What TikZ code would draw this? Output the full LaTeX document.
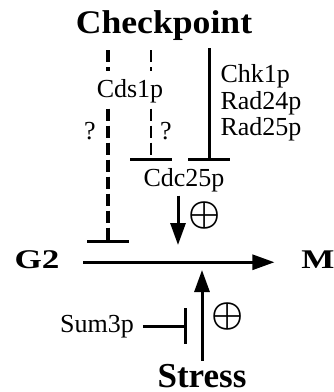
\documentclass[tikz,border=0pt]{standalone}
\usepackage{bm}
\usepackage{fontspec}
\setmainfont{Liberation Serif}
\usepackage{tikz}
\usetikzlibrary{arrows.meta}

\begin{document}
\begin{tikzpicture}[x=0.4pt,y=-0.4pt,
                    act/.style={-{Triangle[length=8.8pt,width=6pt]},line width=1.2pt},
                    inh/.style={-{Bar[width=16.5pt]},line width=1.2pt},
                    guess/.style={inh,dash pattern=on 4.8pt off 2pt}]
\tikzset{font=\fontsize{10.4pt}{10.8pt}\selectfont}
\tikzstyle{lbl}=[inner sep=0pt,anchor=base]
\tikzstyle{big}=[inner sep=0pt,anchor=base,font=\bfseries\fontsize{13.2pt}{14pt}\selectfont]
\tikzstyle{phase}=[inner sep=0pt,anchor=base,font=\bfseries\fontsize{10.8pt}{12pt}\selectfont]
\tikzstyle{signnode}=[inner sep=0pt,font=\fontsize{15.6pt}{16pt}\selectfont]

\useasboundingbox (0,0) rectangle (333,392);

        \node[big]                  (chk)    at (164,34)   {\scalebox{1.08}[1]{Checkpoint}};
        \node[lbl]                  (cds)    at (130,98)   {Cds1p};
        \node[lbl]                  (q1)     at (90,140)   {?};
        \node[lbl]                  (q2)     at (166,140)  {?};

        \node[lbl, anchor=base west] (kin1)  at (220,83)   {Chk1p};
        \node[lbl, anchor=base west] (kin2)  at (220,109.5) {Rad24p};
        \node[lbl, anchor=base west] (kin3)  at (220,136)  {Rad25p};

        \node[lbl]                  (cdc)    at (184,187)  {Cdc25p};
        \node[signnode]             (plus1)  at (205,215)  {$\bm{\oplus}$};

        \node[phase]                (g2)     at (37,268)   {\scalebox{1.3}[1]{G2}};
        \node[phase]                (m)      at (318,268)  {\scalebox{1.3}[1]{M}};

        \node[lbl]                  (sum)    at (97,332)   {Sum3p};
        \node[signnode]             (plus2)  at (228,316)  {$\bm{\oplus}$};
        \node[big, font=\bfseries\fontsize{14pt}{15pt}\selectfont] (stress) at (202,387) {Stress};

        % ends of the connectors
        \coordinate (b1)   at (108,243);
        \coordinate (b2)   at (151,161);
        \coordinate (b3)   at (209,161);
        \coordinate (hit)  at (178,245);
        \coordinate (push) at (202,270);
        \coordinate (blk)  at (187,326);

        \path
        (chk.south -| b1)  edge[guess, -, line width=1.4pt, shorten <=3.5pt, shorten >=3.2pt] (cds.north -| b1)
        (cds.south -| b1)  edge[guess, line width=1.4pt, shorten <=1.8pt]   (b1)
        (chk.south -| b2)  edge[guess, -, line width=1pt, shorten <=3.5pt, shorten >=3.2pt]   (cds.north -| b2)
        (cds.south -| b2)  edge[guess, line width=1pt, shorten <=1.8pt]     (b2)
        (chk.south -| b3)  edge[inh, shorten <=2.7pt]                       (b3)
        (cdc.south -| hit) edge[act, shorten <=1pt]                         (hit)
        (g2.mid east)      edge[act, line width=1.1pt, shorten <=9.4pt, shorten >=10.6pt] (m.mid west)
        (stress.north)     edge[act, shorten <=1pt]                         (push)
        (sum.mid east)     edge[-{Bar[width=14.4pt]}, line width=1.2pt, shorten <=3.4pt] (sum.mid east -| blk)
        ; %end path

\end{tikzpicture}
\end{document}
